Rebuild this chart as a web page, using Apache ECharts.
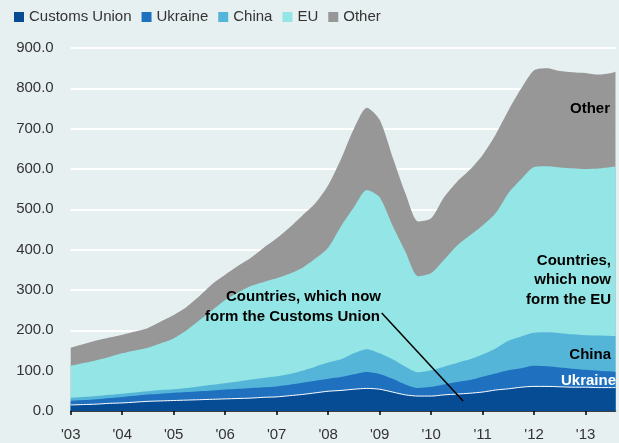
<!DOCTYPE html>
<html>
<head>
<meta charset="utf-8">
<script src="https://cdn.jsdelivr.net/npm/echarts@6/dist/echarts.min.js"></script>
<style>
  html, body { margin: 0; padding: 0; background: #e7f0f1; }
  #chart { width: 619px; height: 443px; }
</style>
</head>
<body>
<div id="chart"></div>
<script>
// Time points (decimal years): quarterly from 2003 to mid-2013, plus the last reading
const periods = [
  2003.00, 2003.25, 2003.50, 2003.75,
  2004.00, 2004.25, 2004.50, 2004.75,
  2005.00, 2005.25, 2005.50, 2005.75,
  2006.00, 2006.25, 2006.50, 2006.75,
  2007.00, 2007.25, 2007.50, 2007.75,
  2008.00, 2008.25, 2008.50, 2008.75,
  2009.00, 2009.25, 2009.50, 2009.75,
  2010.00, 2010.25, 2010.50, 2010.75,
  2011.00, 2011.25, 2011.50, 2011.75,
  2012.00, 2012.25, 2012.50, 2012.75,
  2013.00, 2013.25, 2013.50, 2013.58
];

const seriesNames = ['Customs Union', 'Ukraine', 'China', 'EU', 'Other'];

const customsUnion = [15,16,17,19,20,22,24,25,26,27,28,29,30,31,32,34,35,38,41,45,49,51,54,56,54,47,40,37,37,40,42,44,47,52,55,59,61,61,60,59,59,58,58,58];
const ukraine      = [10,11,12,13,15,16,17,18,19,20,21,22,23,24,25,25,26,27,29,30,31,33,37,41,38,33,26,20,23,26,30,33,38,41,46,47,51,50,48,46,43,42,40,39];
const china        = [8,8,8,8,8,8,8,9,9,10,12,14,16,18,21,23,25,27,30,35,40,44,52,56,51,48,44,39,41,44,47,51,55,62,73,79,82,84,85,85,86,87,88,89];
const eu           = [79,84,89,94,100,104,108,116,126,143,164,185,206,221,232,238,243,248,255,268,285,330,362,395,387,332,285,238,241,265,291,307,320,335,366,390,411,412,411,412,412,414,419,420];
const other        = [45,47,49,48,46,47,49,54,58,58,60,65,63,66,70,85,99,115,130,137,155,167,195,204,192,170,145,136,136,155,158,163,175,195,205,225,240,243,239,238,238,233,233,235];

const yearTicks = [2003, 2004, 2005, 2006, 2007, 2008, 2009, 2010, 2011, 2012, 2013];

const colors = ['#054c94', '#1f71bf', '#55b5d9', '#94e5e5', '#979797'];
const FONT = "'Liberation Sans', Arial, sans-serif";

const valuesList = [customsUnion, ukraine, china, eu, other];

// Stack the series: each area is filled from zero up to the running total,
// drawn from the top layer (Other) down to the bottom one (Customs Union).
const running = periods.map(() => 0);
const stackedTops = valuesList.map(vals => vals.map((v, k) => (running[k] += v)));

const series = seriesNames.map((name, i) => ({
  name: name,
  type: 'line',
  symbol: 'none',
  smooth: 0.25,
  color: colors[i],
  lineStyle: { width: i === 0 ? 1 : 0, color: i === 0 ? '#ffffff' : colors[i] },
  areaStyle: { color: colors[i], opacity: 1 },
  data: periods.map((t, k) => [t, stackedTops[i][k]])
})).reverse();

series[series.length - 1].markLine = {
  silent: true,
  symbol: 'none',
  label: { show: false },
  lineStyle: { color: '#000000', width: 1.5, type: 'solid' },
  data: [[{ coord: [2009.04, 243] }, { coord: [2010.62, 25] }]]
};

const chart = echarts.init(document.getElementById('chart'), null, { renderer: 'canvas' });
const boldText = (text, x, y, fill) => ({
  type: 'text', z: 100,
  style: { text: text, x: x, y: y, fill: fill || '#000000', font: 'bold 15px ' + FONT, align: 'right', verticalAlign: 'middle' }
});

chart.setOption({
  backgroundColor: '#e7f0f1',
  animation: false,
  textStyle: { fontFamily: FONT },
  legend: {
    data: seriesNames, left: 14, top: 9.5, padding: 0, icon: 'rect', itemWidth: 10, itemHeight: 10, itemGap: 10,
    selectedMode: false,
    textStyle: { fontSize: 15, color: '#333333', fontFamily: FONT }
  },
  grid: { left: 70.7, right: 3.5, top: 48, bottom: 32, containLabel: false },
  xAxis: {
    type: 'value', min: 2003, max: 2013.58, interval: 1,
    axisLine: { show: true, lineStyle: { color: '#000000', width: 1.5 } },
    axisTick: { show: true, length: 4, customValues: yearTicks, lineStyle: { color: '#000000', width: 1.5 } },
    axisLabel: { customValues: yearTicks, margin: 16, fontSize: 15, color: '#333333', fontFamily: FONT,
      formatter: v => "'" + String(Math.round(v)).slice(2) },
    splitLine: { show: false }
  },
  yAxis: {
    type: 'value', min: 0, max: 900, interval: 100,
    axisLine: { show: false }, axisTick: { show: false },
    axisLabel: { margin: 17, fontSize: 15, color: '#333333', fontFamily: FONT, formatter: v => v.toFixed(1) },
    splitLine: { show: true, lineStyle: { color: '#ffffff', width: 2 } }
  },
  series: series,
  graphic: [
    boldText('Countries, which now', 381, 297),
    boldText('form the Customs Union', 380, 317),
    boldText('Countries,', 611, 261),
    boldText('which now', 611, 280),
    boldText('form the EU', 611, 300),
    boldText('China', 611, 355),
    boldText('Ukraine', 616, 381, '#ffffff'),
    boldText('Other', 610, 109)
  ]
});
</script>
</body>
</html>
